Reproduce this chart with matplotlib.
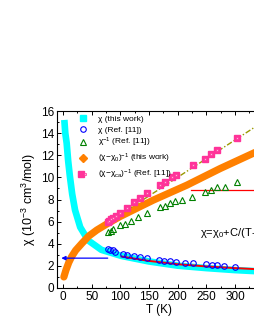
import matplotlib
matplotlib.use("Agg")
import matplotlib.pyplot as plt
from matplotlib.lines import Line2D
from matplotlib.legend_handler import HandlerTuple
from matplotlib.ticker import MultipleLocator

plt.rcParams['font.family'] = ['Liberation Sans', 'DejaVu Sans']
plt.rcParams['mathtext.fontset'] = 'custom'
plt.rcParams['mathtext.rm'] = 'Liberation Sans'
plt.rcParams['mathtext.it'] = 'Liberation Sans:italic'

# chi (this work), thick cyan curve
cyan_T = [2.3, 4, 6.4, 9, 12, 16, 21, 30, 44, 67, 102, 150, 200, 250, 300, 345]
cyan_chi = [15.2, 14.0, 13.1, 11.5, 10.1, 8.5, 7.05, 5.5, 4.3, 3.45, 2.9, 2.4, 2.02, 1.8, 1.62, 1.5]

# chi (Ref. [11]), open circles
circ_T = [78, 82, 88, 91, 104, 111, 123, 134, 146, 168, 176, 187, 197, 212, 227, 249, 260, 268, 281, 300]
circ_chi = [3.5, 3.45, 3.4, 3.3, 3.07, 3.0, 2.89, 2.8, 2.68, 2.53, 2.44, 2.41, 2.35, 2.29, 2.23, 2.14, 2.1, 2.08, 2.03, 1.93]

# Curie-Weiss fit (red)
fit_T = [102, 150, 200, 250, 300, 345]
fit_chi = [2.85, 2.45, 2.15, 1.95, 1.8, 1.68]

# chi^-1 (Ref. [11]), open triangles
tri_T = [78, 83, 88, 100, 109, 119, 131, 147, 169, 178, 187, 196, 207, 225, 248, 259, 268, 283, 303]
tri_chi = [5.1, 5.2, 5.32, 5.68, 5.82, 6.05, 6.4, 6.8, 7.35, 7.45, 7.65, 7.85, 8.0, 8.25, 8.7, 8.9, 9.1, 9.15, 9.6]

# (chi-chi0)^-1 (this work), thick orange curve
orng_T = [1.5, 5, 10, 15, 22, 33, 45, 59, 80, 99, 134, 158, 216, 274, 345]
orng_chi = [1.0, 1.6, 2.3, 2.83, 3.4, 4.04, 4.7, 5.24, 5.9, 6.45, 7.35, 7.96, 9.3, 10.8, 12.5]

# (chi-chi_ca)^-1 (Ref. [11]), pink squares
sq_T = [78, 81, 84, 88, 92, 99, 111, 123, 134, 146, 169, 178, 190, 198, 227, 248, 259, 268, 303]
sq_chi = [6.0, 6.1, 6.2, 6.35, 6.5, 6.8, 7.25, 7.8, 8.1, 8.6, 9.3, 9.6, 10.0, 10.2, 11.1, 11.7, 12.1, 12.5, 13.6]

# linear fit through squares
lin_T = [75, 345]
lin_chi = [5.8, 14.9]

# arrows
blue_arrow = [78, -3, 2.7]
red_arrow = [223, 370, 8.85]

fig = plt.figure(figsize=(2.55, 3.3), dpi=100)
ax = fig.add_axes([0.2235, 0.1273, 0.799, 0.536])

ax.plot(cyan_T, cyan_chi, color='#00FFFF', lw=4.8, solid_capstyle='butt', zorder=2)
ax.plot(orng_T, orng_chi, color='#FF8000', lw=5.2, solid_capstyle='round', zorder=2)
ax.plot(fit_T, fit_chi, color='#FF0000', lw=1.4, zorder=3, clip_on=False)
ax.plot(circ_T, circ_chi, ls='none', marker='o', ms=4, mfc='none', mec='#0000FF', mew=0.8, zorder=4)
ax.plot(tri_T, tri_chi, ls='none', marker='^', ms=4.5, mfc='none', mec='#008000', mew=0.8, zorder=4)
ax.plot(lin_T, lin_chi, color='#999900', lw=1.0, ls=(0, (4, 1.5, 1, 1.5)), zorder=3)
ax.plot(sq_T, sq_chi, ls='none', marker='s', ms=4.3, mfc='#FF3399', mec='#FF3399', zorder=5)
ax.plot(sq_T, sq_chi, ls='none', marker='s', ms=2.0, mfc='#FFB0D8', mec='#FF3399', mew=0.5, zorder=6)

ax.annotate('', xy=(blue_arrow[1], blue_arrow[2]), xytext=(blue_arrow[0], blue_arrow[2]),
            arrowprops=dict(arrowstyle='-|>', color='#0000FF', lw=0.9, mutation_scale=6,
                            shrinkA=0, shrinkB=0), zorder=6)
ax.plot([red_arrow[0], red_arrow[1]], [red_arrow[2], red_arrow[2]], color='#FF0000', lw=0.9,
        clip_on=False, zorder=3)

ax.text(239, 5.0, 'χ=χ$\\mathregular{_0}$+C/(T-θ)', fontsize=8, va='center', ha='left',
        clip_on=False)

ax.set_xlim(-10.5, 345)
ax.set_ylim(0, 16)
ax.xaxis.set_major_locator(MultipleLocator(50))
ax.xaxis.set_minor_locator(MultipleLocator(25))
ax.yaxis.set_major_locator(MultipleLocator(2))
ax.yaxis.set_minor_locator(MultipleLocator(1))
ax.tick_params(which='both', direction='in', top=True, right=True, labelsize=8.5, width=0.7, pad=2)
ax.tick_params(which='major', length=3)
ax.tick_params(which='minor', length=1.6)
for s in ax.spines.values():
    s.set_linewidth(0.8)

ax.set_xlabel('T (K)', fontsize=8.5, labelpad=1)
ax.set_ylabel('χ (10$\\mathregular{^{-3}}$ cm$\\mathregular{^3}$/mol)', fontsize=9, labelpad=2)

h_cyan = Line2D([], [], ls='none', marker='s', ms=4.5, mfc='#00FFFF', mec='#00FFFF')
h_circ = Line2D([], [], ls='none', marker='o', ms=4, mfc='none', mec='#0000FF', mew=0.8)
h_tri = Line2D([], [], ls='none', marker='^', ms=4.5, mfc='none', mec='#008000', mew=0.8)
h_orng = Line2D([], [], ls='none', marker='D', ms=4, mfc='#FF8000', mec='#FF8000')
h_sq1 = Line2D([], [], ls='none', marker='s', ms=4.3, mfc='#FF3399', mec='#FF3399')
h_sq2 = Line2D([], [], ls='none', marker='s', ms=2.0, mfc='#FFB0D8', mec='#FF3399', mew=0.5)
labels = ['χ (this work)',
          'χ (Ref. [11])',
          'χ$\\mathregular{^{-1}}$ (Ref. [11])',
          '(χ−χ$\\mathregular{_0}$)$\\mathregular{^{-1}}$ (this work)',
          '(χ−χ$\\mathregular{_{ca}}$)$\\mathregular{^{-1}}$ (Ref. [11])']
ax.legend([h_cyan, h_circ, h_tri, h_orng, (h_sq1, h_sq2)], labels,
          handler_map={tuple: HandlerTuple(ndivide=None)},
          loc='upper left', bbox_to_anchor=(0.108, 0.975), frameon=False, fontsize=6,
          handlelength=1.0, handletextpad=1.3, labelspacing=0.3, borderaxespad=0,
          borderpad=0)

fig.savefig('out.png', dpi=100)
